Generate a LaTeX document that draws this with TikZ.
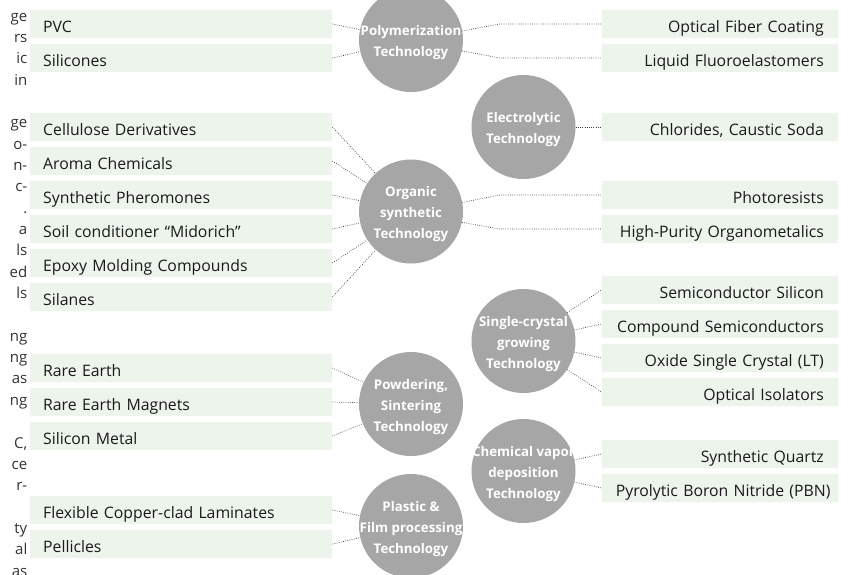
\documentclass[tikz,border=0pt]{standalone}
\usepackage{fontspec}
\setmainfont{Open Sans}
\usepackage{xcolor}
\usepackage{tikz}
\usetikzlibrary{positioning, calc}

\definecolor{itemfill}{RGB}{237,244,236}
\definecolor{techgray}{RGB}{166,166,166}
\definecolor{itemtext}{RGB}{26,26,26}
\definecolor{dotgray}{RGB}{60,60,60}
\definecolor{fragtext}{RGB}{51,51,51}

\begin{document}
\begin{tikzpicture}[x=1pt, y=-1pt,
    item/.style={fill=itemfill, minimum height=28pt, inner ysep=0pt, text height=16.5pt, text depth=0pt, text=itemtext, font=\fontsize{15.8}{19}\selectfont},
    leftitem/.style={item, anchor=west, inner xsep=13pt, text width=276pt, align=left},
    rightitem/.style={item, anchor=east, inner xsep=14pt, text width=208pt, align=right},
    tech/.style={circle, fill=techgray, minimum size=104pt, inner sep=0pt},
    techtext/.style={text=white, align=center, inner sep=0pt, yshift=-3pt, font=\fontsize{13.3}{21}\selectfont\bfseries},
    link/.style={draw=dotgray, line width=0.7pt, dash pattern=on 0.7pt off 1.5pt},
    frag/.style={anchor=base east, inner sep=0pt, text=fragtext, font=\fontsize{15}{18}\selectfont}]
    \path[use as bounding box, fill=white] (0,0) rectangle (856,574);

    % Text column cut at the left edge
    \foreach \k/\frag in {-1/r., 0/ge, 1/rs, 2/ic, 3/in, 5/ge, 6/o-, 7/n-, 8/c-, 9/., 10/a, 11/ls, 12/ed, 13/ls,
        15/ng, 16/ng, 17/as, 18/ng, 20/{C,}, 21/ce, 22/r-, 24/ty, 25/al, 26/as} {
        \node[frag] (frag\k) at (27.5,{21+21.35*\k}) {\frag};
    }

    % Technologies
    \node[tech] (poly) at (411,40) {};
    \node[techtext] (poly-t) at (poly) {Polymerization\\Technology};
    \node[tech] (elec) at (523.5,127) {};
    \node[techtext] (elec-t) at (elec) {Electrolytic\\Technology};
    \node[tech] (organic) at (411,211.5) {};
    \node[techtext] (organic-t) at (organic) {Organic\\synthetic\\Technology};
    \node[tech] (single) at (523.5,341) {};
    \node[techtext] (single-t) at (single) {Single-crystal\\growing\\Technology};
    \node[tech] (powder) at (411,404) {};
    \node[techtext] (powder-t) at (powder) {Powdering,\\Sintering\\Technology};
    \node[tech] (cvd) at (523.5,471) {};
    \node[techtext] (cvd-t) at (cvd) {Chemical vapor\\deposition\\Technology};
    \node[tech] (plastic) at (411,526) {};
    \node[techtext] (plastic-t) at (plastic) {Plastic \&\\Film processing\\Technology};

    % Products on the left
    \foreach \name/\ypos/\label in {pvc/24/PVC, silic/58/Silicones, cell/127/Cellulose Derivatives,
        aroma/161/Aroma Chemicals, phero/195/Synthetic Pheromones, soil/229/Soil conditioner “Midorich”,
        epoxy/263/Epoxy Molding Compounds, silan/297/Silanes, rare/368/Rare Earth,
        magnet/402/Rare Earth Magnets, simetal/436/Silicon Metal,
        fccl/510/Flexible Copper-clad Laminates, pellicle/544/Pellicles} {
        \node[leftitem] (\name) at (30,\ypos) {\label};
    }

    % Products on the right
    \foreach \name/\ypos/\label in {fiber/24/Optical Fiber Coating, fluoro/58/Liquid Fluoroelastomers,
        chlor/127/{Chlorides, Caustic Soda}, photo/195/Photoresists, organo/229/High-Purity Organometalics,
        semisi/290/Semiconductor Silicon, compound/324/Compound Semiconductors,
        oxide/358/Oxide Single Crystal (LT), isolator/392/Optical Isolators,
        quartz/454/Synthetic Quartz, pbn/488/\mbox{Pyrolytic Boron Nitride (PBN)}} {
        \node[rightitem] (\name) at (838,\ypos) {\label};
    }

    % Dotted links
    \foreach \item in {pvc, silic} \draw[link] (\item.east) -- (poly);
    \foreach \item in {cell, aroma, phero, soil, epoxy, silan} \draw[link] (\item.east) -- (organic);
    \foreach \item in {rare, magnet, simetal} \draw[link] (\item.east) -- (powder);
    \foreach \item in {fccl, pellicle} \draw[link] (\item.east) -- (plastic);
    \draw[link] (poly.10) -- ([xshift=-102pt]fiber.west) -- (fiber.west);
    \draw[link] (poly.-12) -- ([xshift=-102pt]fluoro.west) -- (fluoro.west);
    \draw[link] (organic.10) -- ([xshift=-102pt]photo.west) -- (photo.west);
    \draw[link] (organic.-12) -- ([xshift=-102pt]organo.west) -- (organo.west);
    \draw[link] (elec) -- (chlor.west);
    \foreach \item in {semisi, compound, oxide, isolator} \draw[link] (single) -- (\item.west);
    \foreach \item in {quartz, pbn} \draw[link] (cvd) -- (\item.west);
\end{tikzpicture}
\end{document}
